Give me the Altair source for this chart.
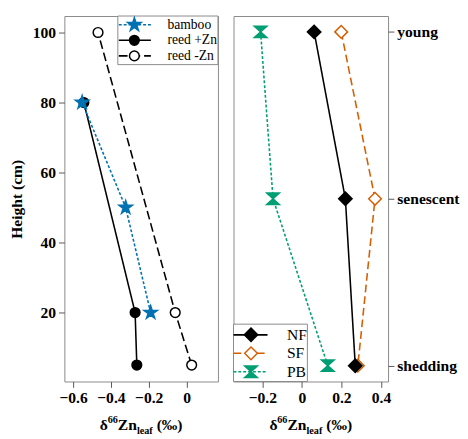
import altair as alt
import pandas as pd

# ---------------- data ----------------
heights_bamboo = [80, 50, 20]
d66_bamboo = [-0.552, -0.322, -0.19]
heights_reed_pos = [80, 20, 5]
d66_reed_pos = [-0.543, -0.272, -0.263]
heights_reed_neg = [100, 20, 5]
d66_reed_neg = [-0.468, -0.06, 0.027]

stages = ["young", "senescent", "shedding"]
d66_nf = [0.062, 0.22, 0.27]
d66_sf = [0.199, 0.37, 0.283]
d66_pb = [-0.209, -0.146, 0.131]

# ---------------- styles ----------------
FONT = "Liberation Serif"
BLUE, ORANGE, GREEN, BLACK = "#0072b2", "#d55e00", "#009e73", "#000000"
HOURGLASS = "M-1,-0.9L1,-0.9L-1,0.9L1,0.9Z"
STAR = ("M0,-1L0.225,-0.309L0.951,-0.309L0.363,0.118L0.588,0.809L0,0.382"
        "L-0.588,0.809L-0.363,0.118L-0.951,-0.309L-0.225,-0.309Z")

style = {
    "bamboo":   dict(color=BLUE,  fill=BLUE,    shape=STAR,      dash=[3, 2], size=210),
    "reed +Zn": dict(color=BLACK, fill=BLACK,   shape="circle",  dash=[1, 0], size=100),
    "reed -Zn": dict(color=BLACK, fill="white", shape="circle",  dash=[9, 4], size=100),
    "NF":       dict(color=BLACK, fill=BLACK,   shape="diamond", dash=[1, 0], size=190),
    "SF":       dict(color=ORANGE, fill="white", shape="diamond", dash=[8, 4], size=170),
    "PB":       dict(color=GREEN, fill=GREEN,   shape=HOURGLASS, dash=[3, 2], size=170),
}

W1, W2, H = 158, 159, 376

one = pd.DataFrame({"a": [0]})
num_label = "datum.value == 0 ? '0' : replace(format(datum.value, '.1f'), '-', '\u2212')"


def series_layers(df, x, y, order_field):
    s = style[df["series"].iloc[0]]
    line = alt.Chart(df).mark_line(color=s["color"], strokeWidth=1.6, strokeDash=s["dash"]).encode(
        x=x, y=y, order=order_field)
    pts = alt.Chart(df).mark_point(shape=s["shape"], size=s["size"], fill=s["fill"], stroke=s["color"],
                                   strokeWidth=1.5, filled=False, opacity=1, fillOpacity=1).encode(x=x, y=y)
    return [line, pts]


def legend_layers(names, box, rows, line_x, mark_x, text_x, fsize):
    x0, x1, y0, y1 = box
    layers = [alt.Chart(one).mark_rect(fill="white", stroke="#888", strokeWidth=1).encode(
        x=alt.value(x0), x2=alt.value(x1), y=alt.value(y0), y2=alt.value(y1))]
    for n, ry in zip(names, rows):
        s = style[n]
        layers.append(alt.Chart(one).mark_rule(color=s["color"], strokeWidth=1.6, strokeDash=s["dash"]).encode(
            x=alt.value(line_x[0]), x2=alt.value(line_x[1]), y=alt.value(ry)))
        layers.append(alt.Chart(one).mark_point(shape=s["shape"], size=s["size"], fill=s["fill"], stroke=s["color"],
                                                strokeWidth=1.5, filled=False, opacity=1, fillOpacity=1).encode(
            x=alt.value(mark_x), y=alt.value(ry)))
        layers.append(alt.Chart(one).mark_text(text=n, font=FONT, fontSize=fsize, align="left", baseline="middle",
                                               color="black").encode(x=alt.value(text_x), y=alt.value(ry)))
    return layers


def xtitle(width):
    pieces = [("δ", 16, 8.0, 0), ("66", 10.5, 10.5, -7), ("Zn", 16, 19.6, 0), ("leaf", 10.5, 16.3, 4), ("(‰)", 16, 30.6, 0)]
    total = sum(p[2] for p in pieces)
    x = width / 2 - total / 2
    base = H + 50
    out = []
    for txt, fs, w, dy in pieces:
        xx = x + (4 if txt.startswith("(") else 0)
        out.append(alt.Chart(one).mark_text(text=txt, font=FONT, fontSize=fs, fontWeight="bold", align="left",
                                            baseline="alphabetic", color="black").encode(
            x=alt.value(xx), y=alt.value(base + dy)))
        x += w
    return out


# ---------------- left panel ----------------
lx = alt.X("d66:Q", scale=alt.Scale(domain=[-0.646, 0.166], nice=False, zero=False),
           axis=alt.Axis(values=[-0.6, -0.4, -0.2, 0], labelExpr=num_label, title=None))
ly = alt.Y("height:Q", scale=alt.Scale(domain=[0.3, 104.7], nice=False, zero=False),
           axis=alt.Axis(values=[20, 40, 60, 80, 100], title="Height (cm)", titlePadding=8))

left_layers = []
for name, hs, vs in [("reed -Zn", heights_reed_neg, d66_reed_neg),
                     ("reed +Zn", heights_reed_pos, d66_reed_pos),
                     ("bamboo", heights_bamboo, d66_bamboo)]:
    df = pd.DataFrame({"series": name, "height": hs, "d66": vs})
    left_layers += series_layers(df, lx, ly, "height:Q")

left = alt.layer(
    *left_layers,
    *legend_layers(["bamboo", "reed +Zn", "reed -Zn"], (W1 - 103, W1, 0, 50), [9, 25, 41],
                   (W1 - 102, W1 - 69), W1 - 86, W1 - 52, 14),
    *xtitle(W1)
).properties(width=W1, height=H)

# ---------------- right panel ----------------
rx = alt.X("d66:Q", scale=alt.Scale(domain=[-0.346, 0.436], nice=False, zero=False),
           axis=alt.Axis(values=[-0.2, 0, 0.2, 0.4], labelExpr=num_label, title=None))
ry = alt.Y("stage:N", sort=stages, scale=alt.Scale(type="point", domain=stages, padding=0.095),
           axis=alt.Axis(orient="right", title=None, labelPadding=3))

right_layers = []
for name, vs in [("SF", d66_sf), ("PB", d66_pb), ("NF", d66_nf)]:
    df = pd.DataFrame({"series": name, "stage": stages, "idx": [0, 1, 2], "d66": vs})
    right_layers += series_layers(df, rx, ry, "idx:Q")

right = alt.layer(
    *right_layers,
    *legend_layers(["NF", "SF", "PB"], (0, 76, H - 59, H), [H - 48, H - 29, H - 10],
                   (0, 35), 18, 55, 16),
    *xtitle(W2)
).properties(width=W2, height=H)

chart = alt.hconcat(left, right, spacing=13).properties(padding=0).configure_view(
    stroke="#888", strokeWidth=1
).configure_axis(
    domain=False, grid=False, tickSize=6, tickColor="#555",
    labelFont=FONT, labelFontSize=16, labelFontWeight="bold", labelColor="black", labelPadding=3,
    titleFont=FONT, titleFontSize=16, titleFontWeight="bold", titleColor="black", titlePadding=4,
)

chart.save("out.html", embed_options={"renderer": "svg", "actions": False})
